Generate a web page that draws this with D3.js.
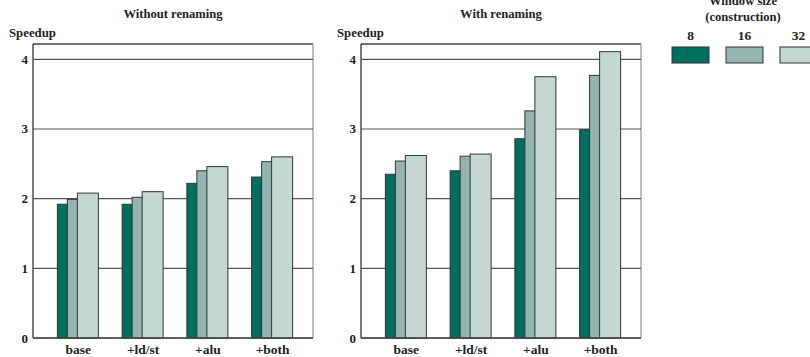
<!DOCTYPE html>
<html>
<head>
  <meta charset="UTF-8">
  <title>speedup chart</title>
  <script src="https://d3js.org/d3.v7.min.js"></script>
  <style>
    body { margin: 0; background: #fff; }
    text { font-family: "Liberation Serif", "Times New Roman", "DejaVu Serif", serif; font-weight: bold; fill: #222; }
  </style>
</head>
<body>
  <svg width="810" height="357"></svg>

  <script>
    // data
    let categories = ["base", "+ld/st", "+alu", "+both"];
    let seriesNames = ["8", "16", "32"];
    let panelTitles = ["Without renaming", "With renaming"];
    let withoutRenaming = [
      [1.92, 1.99, 2.08],
      [1.92, 2.02, 2.10],
      [2.22, 2.40, 2.46],
      [2.31, 2.53, 2.60]
    ];
    let withRenaming = [
      [2.35, 2.54, 2.62],
      [2.40, 2.61, 2.64],
      [2.86, 3.26, 3.75],
      [2.99, 3.77, 4.11]
    ];
    let yTicks = [0, 1, 2, 3, 4];

    let colors = ["#006f60", "#93b4af", "#c5d7d2"];
    let gridColor = "#555";

    let svg = d3.select("svg");
    let plotTop = 44, plotBottom = 338, plotWidth = 280;
    let barWidth = 21;

    let y = d3.scaleLinear().domain([0, 4.22]).range([plotBottom, plotTop]);
    let offset = d3.scalePoint().domain(seriesNames).range([-21, -1]);

    function drawPanel(x0, title, values) {
      let g = svg.append("g");
      let x = d3.scaleBand().domain(categories).range([x0 + 13, x0 + 13 + 259]);

      // frame
      g.append("line").attr("x1", x0).attr("x2", x0 + plotWidth)
        .attr("y1", plotTop).attr("y2", plotTop).attr("stroke", "#444").attr("stroke-width", 1.3);
      g.append("line").attr("x1", x0 + plotWidth).attr("x2", x0 + plotWidth)
        .attr("y1", plotTop).attr("y2", plotBottom).attr("stroke", "#999").attr("stroke-width", 1.3);
      g.append("line").attr("x1", x0).attr("x2", x0)
        .attr("y1", plotTop).attr("y2", plotBottom).attr("stroke", "#333").attr("stroke-width", 1.3);

      // gridlines
      g.selectAll(".grid").data(yTicks).enter().append("line")
        .attr("x1", x0).attr("x2", x0 + plotWidth)
        .attr("y1", d => y(d)).attr("y2", d => y(d))
        .attr("stroke", gridColor).attr("stroke-width", 1.2);

      // y labels
      g.selectAll(".ylab").data(yTicks).enter().append("text")
        .attr("x", x0 - 5).attr("y", d => y(d) + 4.5)
        .attr("text-anchor", "end").attr("font-size", 13)
        .text(d => d);

      g.append("text").attr("x", x0 - 24).attr("y", 37)
        .attr("font-size", 12.8).text("Speedup");

      g.append("text").attr("x", x0 + plotWidth / 2).attr("y", 18)
        .attr("text-anchor", "middle").attr("font-size", 12.6).text(title);

      // bars
      categories.forEach((c, ci) => {
        let cx = x(c) + x.bandwidth() / 2;
        seriesNames.forEach((s, si) => {
          let v = values[ci][si];
          g.append("rect")
            .attr("x", cx + offset(s))
            .attr("y", y(v))
            .attr("width", barWidth)
            .attr("height", y(0) - y(v))
            .attr("fill", colors[si])
            .attr("stroke", "#333")
            .attr("stroke-width", 1);
        });
        g.append("text").attr("x", cx).attr("y", 354)
          .attr("text-anchor", "middle").attr("font-size", 13.5).text(c);
      });

      // baseline on top
      g.append("line").attr("x1", x0).attr("x2", x0 + plotWidth)
        .attr("y1", plotBottom).attr("y2", plotBottom).attr("stroke", "#444").attr("stroke-width", 1.3);
    }

    drawPanel(33, panelTitles[0], withoutRenaming);
    drawPanel(361, panelTitles[1], withRenaming);

    // legend
    let legend = svg.append("g");
    legend.append("text").attr("x", 743).attr("y", 5).attr("text-anchor", "middle")
      .attr("font-size", 12.6).text("Window size");
    legend.append("text").attr("x", 743).attr("y", 21).attr("text-anchor", "middle")
      .attr("font-size", 12.6).text("(construction)");
    let lx = d3.scalePoint().domain(seriesNames).range([672, 780]);
    seriesNames.forEach((s, i) => {
      legend.append("text").attr("x", lx(s) + 18.5).attr("y", 40).attr("text-anchor", "middle")
        .attr("font-size", 13.5).text(s);
      legend.append("rect").attr("x", lx(s)).attr("y", 47)
        .attr("width", 37).attr("height", 16)
        .attr("fill", colors[i]).attr("stroke", "#333").attr("stroke-width", 1);
    });
  </script>
</body>
</html>
